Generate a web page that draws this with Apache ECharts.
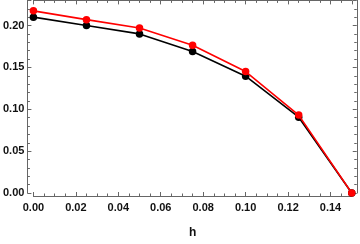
<!DOCTYPE html>
<html><head><meta charset="utf-8">
<script src="https://cdn.jsdelivr.net/npm/echarts@6/dist/echarts.min.js"></script>
<style>html,body{margin:0;padding:0;background:#fff}#c{width:360px;height:244px}</style>
</head><body><div id="c"></div>
<script>
const hValues = [0, 0.025, 0.05, 0.075, 0.1, 0.125, 0.15];
const blackSeries = [0.210, 0.200, 0.190, 0.169, 0.1395, 0.0905, 0];
const redSeries = [0.2175, 0.207, 0.197, 0.1765, 0.145, 0.093, 0];
const xTicks = [0, 0.02, 0.04, 0.06, 0.08, 0.1, 0.12, 0.14];
const yTicks = [0, 0.05, 0.1, 0.15, 0.2];

const frameColor = '#666';
const labelStyle = {color:'#111', fontFamily:'Liberation Sans, Arial', fontWeight:'bold', fontSize:11};
const chart = echarts.init(document.getElementById('c'), null, {renderer:'canvas'});
function pairs(ys){ return hValues.map((x,i)=>[x, ys[i]]); }
const tickCommon = {show:true, inside:true, length:4, lineStyle:{color:frameColor, width:1}};
const minorCommon = {show:true, length:2.5, lineStyle:{color:frameColor, width:1}};
chart.setOption({
  animation:false,
  grid:{left:33, right:8.25, top:0.4, bottom:43, containLabel:false},
  xAxis:[{
    type:'value', min:0, max:0.15, interval:0.02, position:'bottom', offset:3,
    axisLine:{show:true, onZero:false, lineStyle:{color:frameColor, width:1}},
    axisTick:tickCommon, minorTick:Object.assign({splitNumber:4}, minorCommon),
    splitLine:{show:false},
    axisLabel:Object.assign({margin:6, formatter:v=>v.toFixed(2), showMaxLabel:false}, labelStyle),
    name:'h', nameLocation:'middle', nameGap:31,
    nameTextStyle:{color:'#111', fontFamily:'Liberation Sans, Arial', fontWeight:'bold', fontSize:12}
  },{
    type:'value', min:0, max:0.15, interval:0.02, position:'top', offset:0,
    axisLine:{show:true, onZero:false, lineStyle:{color:frameColor, width:1}},
    axisTick:tickCommon, minorTick:Object.assign({splitNumber:4}, minorCommon),
    splitLine:{show:false}, axisLabel:{show:false}
  }],
  yAxis:[{
    type:'value', min:0, max:0.23, interval:0.05, position:'left', offset:6,
    axisLine:{show:true, onZero:false, lineStyle:{color:frameColor, width:1}},
    axisTick:tickCommon, minorTick:Object.assign({splitNumber:5}, minorCommon),
    splitLine:{show:false},
    axisLabel:Object.assign({margin:3, formatter:v=>v.toFixed(2), showMaxLabel:false}, labelStyle)
  },{
    type:'value', min:0, max:0.23, interval:0.05, position:'right', offset:5,
    axisLine:{show:true, onZero:false, lineStyle:{color:frameColor, width:1}},
    axisTick:tickCommon, minorTick:Object.assign({splitNumber:5}, minorCommon),
    splitLine:{show:false}, axisLabel:{show:false}
  }],
  series:[
    {type:'line', data:pairs(blackSeries), symbol:'circle', symbolSize:7.5, clip:false,
     itemStyle:{color:'#000'}, lineStyle:{color:'#000', width:1.6}, z:2},
    {type:'line', data:pairs(redSeries), symbol:'circle', symbolSize:7.5, clip:false,
     itemStyle:{color:'#ff0000'}, lineStyle:{color:'#ff0000', width:1.6}, z:3}
  ]
});
</script></body></html>
